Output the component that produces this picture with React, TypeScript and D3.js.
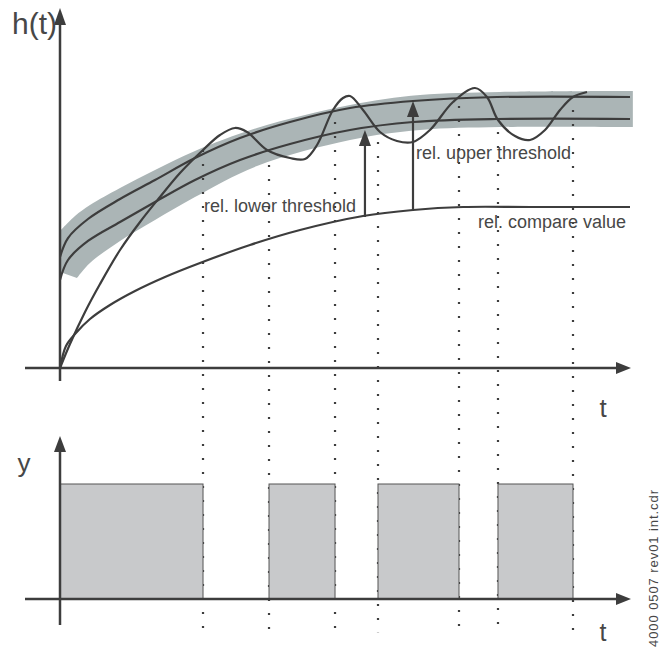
import React from "react";
import * as d3 from "d3";

// ---- data (t: 0..100, h: 0..100) ----
const upperT = [0, 1.4, 4.91, 10.53, 16.67, 23.68, 31.58, 40.35, 50.88, 61.93, 76.67, 100];
const upperH = [30.83, 36.11, 41.39, 46.94, 52.22, 58.33, 63.89, 68.33, 72.22, 74.17, 75.28, 75.28];

const lowerT = [0, 1.4, 4.91, 10.53, 16.67, 23.68, 31.58, 40.35, 50.88, 61.93, 76.67, 100];
const lowerH = [24.44, 30.0, 35.28, 40.56, 46.11, 52.22, 57.78, 62.22, 66.11, 68.33, 69.17, 69.17];

const bandTopT = [0, 2.63, 5.26, 10.53, 16.67, 23.68, 34.56, 50.88, 63.16, 77.19, 100.5];
const bandTopH = [38.06, 42.22, 45.28, 50, 55, 60.28, 66.67, 73.06, 75.83, 76.67, 76.94];
const bandBotT = [2.98, 5.26, 10.53, 16.67, 23.68, 34.56, 50.88, 63.16, 77.19, 100.5];
const bandBotH = [25, 29.17, 35.28, 41.11, 47.5, 56.11, 63.33, 66.11, 66.94, 66.94];
const bandStartBottomH = 26.67;

const compareT = [0, 1.05, 2.63, 5.26, 8.77, 13.16, 18.42, 24.56, 33.33, 42.11, 53.16, 61.93, 70.7, 82.46, 100];
const compareH = [0, 6.11, 9.44, 13.61, 17.5, 21.39, 25.28, 29.17, 34.17, 38.33, 42.22, 43.89, 44.72, 44.72, 44.72];

const actualT = [0, 1.75, 4.39, 7.02, 10.53, 14.04, 17.54, 21.05, 25.09, 28.07, 30.7, 32.81, 36.32, 40.35, 42.98,
  45.09, 47.89, 49.65, 50.88, 53.16, 56.14, 59.12, 61.93, 64.91, 68.95, 72.81, 74.91, 76.84, 79.82, 82.46,
  85.09, 87.72, 90, 92.46];
const actualH = [0, 6.67, 15.56, 23.33, 32.78, 40.56, 47.5, 54.17, 60.56, 64.72, 66.67, 65.56, 60.56, 58.33, 58.06,
  61.94, 71.67, 75, 75.56, 71.67, 65.56, 63.06, 62.78, 66.11, 73.89, 77.78, 75.28, 68.89, 64.44, 63.33,
  66.11, 71.67, 75.28, 76.67];

// switching instants (dotted lines) and where they start on h(t)
const switchT = [25.09, 36.67, 48.25, 55.79, 70, 76.84, 90];
const switchH = [60.56, 56.39, 68.33, 62.78, 72.78, 69.44, 71.67];
// output y: on intervals between switching instants
const barStart = [0, 36.67, 55.79, 76.84];
const barEnd = [25.09, 48.25, 70, 90];
const barValue = [1, 1, 1, 1];

// distance arrows
const arrowT = [53.5, 61.93];
const arrowFromH = [41.94, 43.89];
const arrowToH = [66.11, 74.17];

const labels = ["rel. lower threshold", "rel. upper threshold", "rel. compare value"];
const labelT = [25.26, 62.46, 73.33];
const labelH = [43.33, 58.06, 38.89];
const fileTag = "4000 0507 rev01 int.cdr";

const W = 661, H = 648;
const x = d3.scaleLinear().domain([0, 100]).range([60, 630]);
const yTop = d3.scaleLinear().domain([0, 100]).range([368, 8]);
const yBot = d3.scaleLinear().domain([0, 1]).range([599, 484]);

const dark = "#3d3d3d";
const txt = "#474747";
const font = "'Liberation Sans', Arial, Helvetica, sans-serif";

function zip(ts: number[], hs: number[]): [number, number][] {
  return ts.map((t, i) => [x(t), yTop(hs[i])] as [number, number]);
}

export default function App() {
  const smooth = d3.line<[number, number]>().x(d => d[0]).y(d => d[1]).curve(d3.curveCatmullRom.alpha(0.5));

  const topPts = zip(bandTopT, bandTopH);
  const botPts = zip(bandBotT, bandBotH).reverse();
  const bandPath =
    (smooth(topPts) as string) +
    "L" + botPts[0][0] + "," + botPts[0][1] +
    (smooth(botPts) as string).replace(/^M[^A-Za-z]*/, "") +
    "L" + x(0) + "," + yTop(bandStartBottomH) + "Z";

  const arrowHead = (cx: number, tipY: number, dir: number, len = 16, w = 6) =>
    `${cx},${tipY} ${cx - w},${tipY + dir * len} ${cx + w},${tipY + dir * len}`;
  const arrowHeadH = (tipX: number, cy: number, len = 15, w = 6) =>
    `${tipX},${cy} ${tipX - len},${cy - w} ${tipX - len},${cy + w}`;

  const dotBottom = yBot(-0.29);

  return (
    <svg width={W} height={H} style={{ position: "absolute", left: 0, top: 0, background: "#fff" }}>
      {/* tolerance band */}
      <path d={bandPath} fill="#abb5b6" stroke="none" />

      {/* dotted switching lines */}
      {switchT.map((t, i) => (
        <line key={"d" + i} x1={x(t)} x2={x(t)} y1={yTop(switchH[i])} y2={dotBottom}
          stroke={dark} strokeWidth={2.2} strokeDasharray="2 12" />
      ))}

      {/* output bars */}
      {barStart.map((s, i) => (
        <rect key={"b" + i} x={x(s)} y={yBot(barValue[i])} width={x(barEnd[i]) - x(s)}
          height={yBot(0) - yBot(barValue[i])} fill="#c8c9cb" stroke="#555" strokeWidth={1} />
      ))}

      {/* curves */}
      <path d={smooth(zip(upperT, upperH)) as string} fill="none" stroke={dark} strokeWidth={2.2} />
      <path d={smooth(zip(lowerT, lowerH)) as string} fill="none" stroke={dark} strokeWidth={2.2} />
      <path d={smooth(zip(compareT, compareH)) as string} fill="none" stroke={dark} strokeWidth={2.2} />
      <path d={smooth(zip(actualT, actualH)) as string} fill="none" stroke={dark} strokeWidth={2.2} />

      {/* distance arrows */}
      {arrowT.map((t, i) => (
        <g key={"a" + i}>
          <line x1={x(t)} x2={x(t)} y1={yTop(arrowFromH[i])} y2={yTop(arrowToH[i]) + 10} stroke={dark} strokeWidth={2.2} />
          <polygon points={arrowHead(x(t), yTop(arrowToH[i]), 1)} fill={dark} />
        </g>
      ))}

      {/* top axes */}
      <line x1={x(0)} x2={x(0)} y1={381} y2={20} stroke={dark} strokeWidth={2.5} />
      <polygon points={arrowHead(x(0), 8, 1, 17, 6)} fill={dark} />
      <line x1={25} x2={620} y1={yTop(0)} y2={yTop(0)} stroke={dark} strokeWidth={2.5} />
      <polygon points={arrowHeadH(631, yTop(0))} fill={dark} />

      {/* bottom axes */}
      <line x1={x(0)} x2={x(0)} y1={625} y2={448} stroke={dark} strokeWidth={2.5} />
      <polygon points={arrowHead(x(0), 436, 1, 16, 6)} fill={dark} />
      <line x1={25} x2={620} y1={yBot(0)} y2={yBot(0)} stroke={dark} strokeWidth={2.5} />
      <polygon points={arrowHeadH(631, yBot(0))} fill={dark} />

      {/* axis titles */}
      <text x={57} y={34} fontFamily={font} fontSize={30} fill={txt} textAnchor="end">h(t)</text>
      <text x={603} y={417} fontFamily={font} fontSize={26} fill={txt} textAnchor="middle">t</text>
      <text x={24} y={472} fontFamily={font} fontSize={26} fill={txt} textAnchor="middle">y</text>
      <text x={603} y={641} fontFamily={font} fontSize={25} fill={txt} textAnchor="middle">t</text>

      {/* curve labels */}
      {labels.map((l, i) => (
        <text key={"l" + i} x={x(labelT[i])} y={yTop(labelH[i])} fontFamily={font} fontSize={18} fill={txt}>{l}</text>
      ))}

      {/* file tag */}
      <text transform={`translate(658,647) rotate(-90)`} fontFamily={font} fontSize={13} fill={txt}
        textLength={157} lengthAdjust="spacing">{fileTag}</text>
    </svg>
  );
}
